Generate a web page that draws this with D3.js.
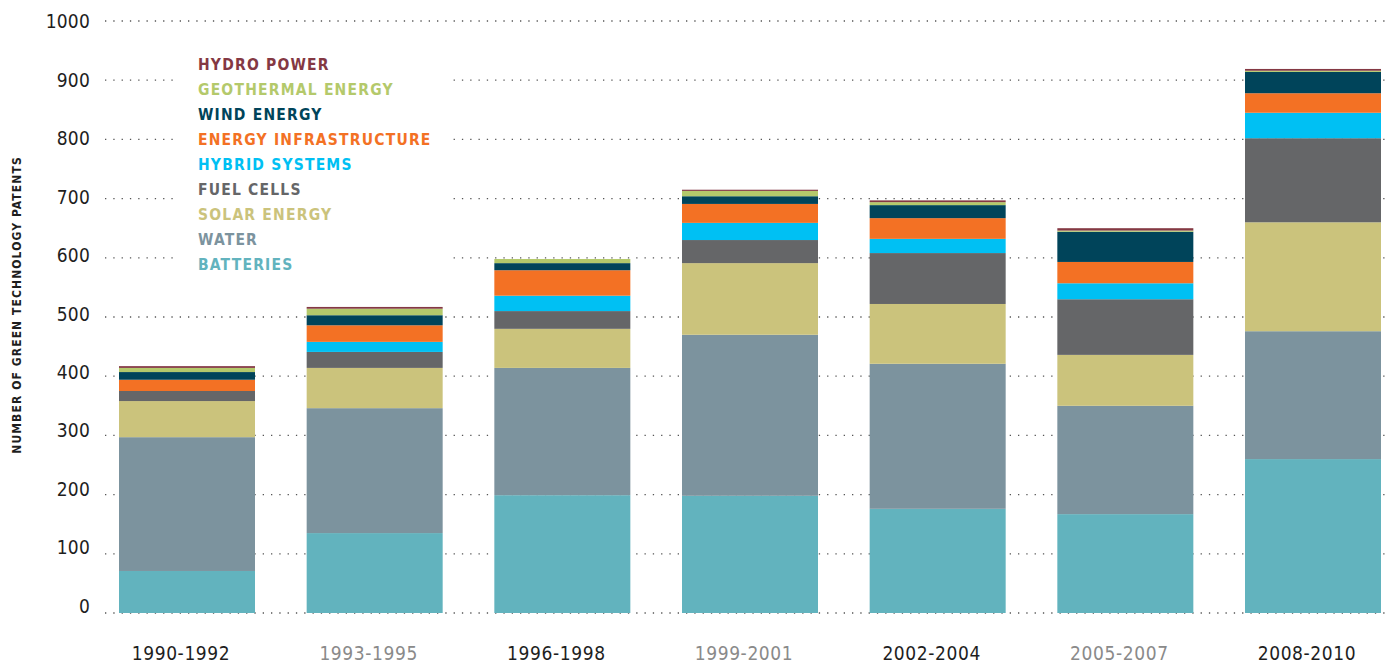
<!DOCTYPE html>
<html>
<head>
<meta charset="utf-8">
<script src="https://cdn.jsdelivr.net/npm/d3@7"></script>
<style>
  body { margin: 0; background: #fff; }
  svg { display: block; }
</style>
</head>
<body>
<div class="container"></div>
<script>
// data
const periods = ["1990-1992", "1993-1995", "1996-1998", "1999-2001", "2002-2004", "2005-2007", "2008-2010"]
const batteries   = [71, 135, 199, 198, 176, 167, 260]
const water       = [226, 211, 215, 272, 245, 183, 216]
const solar       = [61, 68, 66, 121, 101, 86, 184]
const fuelCells   = [17, 27, 30, 39, 86, 94, 142]
const hybrid      = [0, 17, 26, 29, 24, 27, 43]
const infra       = [19, 28, 43, 32, 35, 36, 33]
const wind        = [13, 17, 12, 13, 22, 51, 36]
const geothermal  = [7, 11, 7, 9, 5, 2, 2]
const hydro       = [3, 3, 0, 2, 3, 4, 3]
const yTicks = [0, 100, 200, 300, 400, 500, 600, 700, 800, 900, 1000]

const seriesNames = ["BATTERIES", "WATER", "SOLAR ENERGY", "FUEL CELLS", "HYBRID SYSTEMS",
  "ENERGY INFRASTRUCTURE", "WIND ENERGY", "GEOTHERMAL ENERGY", "HYDRO POWER"]
const seriesValues = [batteries, water, solar, fuelCells, hybrid, infra, wind, geothermal, hydro]
const colors = ["#62b3be", "#7c939e", "#cbc37c", "#656668", "#00c0f3", "#f37124", "#00445a", "#b4c96b", "#843843"]

const w = 1390
const h = 663
const numFont = "'DejaVu Sans Condensed', sans-serif"

// table for d3.stack
const table = periods.map((p, i) => {
    const row = { period: p }
    seriesNames.forEach((s, j) => { row[s] = seriesValues[j][i] })
    return row
})
const stacked = d3.stack().keys(seriesNames)(table)

const xScale = d3.scaleBand()
.domain(periods)
.range([119, 1381])
.paddingInner(0.2753)
.paddingOuter(0)

const yScale = d3.scaleLinear()
.domain([0, 1000])
.range([613, 21])

// tick labels sit on a slightly tighter scale in the original
const yLabel = d3.scaleLinear()
.domain([0, 1000])
.range([606, 21.5])

const color = d3.scaleOrdinal().domain(seriesNames).range(colors)

const svg = d3.select(".container")
.append("svg")
.attr("width", w)
.attr("height", h)

// dotted grid
svg.append("g")
.selectAll("line")
.data(yTicks)
.enter()
.append("line")
.attr("x1", 105)
.attr("x2", 1386)
.attr("y1", (d) => yScale(d))
.attr("y2", (d) => yScale(d))
.attr("stroke", "#555")
.attr("stroke-width", 1.3)
.attr("stroke-dasharray", "1.3 7")

// y labels
svg.append("g")
.selectAll("text")
.data(yTicks)
.enter()
.append("text")
.attr("x", 90)
.attr("y", (d) => yLabel(d))
.attr("dy", "0.36em")
.attr("text-anchor", "end")
.style("font-family", numFont)
.style("font-size", "19px")
.style("letter-spacing", "0.2px")
.style("fill", "#1e1e1e")
.text((d) => d)

// bars
svg.append("g")
.selectAll("g")
.data(stacked)
.enter()
.append("g")
.attr("fill", (d) => color(d.key))
.selectAll("rect")
.data((d) => d)
.enter()
.append("rect")
.attr("x", (d) => xScale(d.data.period))
.attr("y", (d) => yScale(d[1]))
.attr("width", xScale.bandwidth())
.attr("height", (d) => yScale(d[0]) - yScale(d[1]))

// x labels
svg.append("g")
.selectAll("text")
.data(periods)
.enter()
.append("text")
.attr("x", (d) => xScale(d) + xScale.bandwidth() / 2 - 6)
.attr("y", 653)
.attr("dy", "0.36em")
.attr("text-anchor", "middle")
.style("font-family", numFont)
.style("font-size", "19px")
.style("letter-spacing", "0.6px")
.style("fill", (d, i) => i % 2 === 0 ? "#1e1e1e" : "#8a8a8a")
.text((d) => d)

// y title
svg.append("text")
.attr("transform", "translate(21," + 305 + ") rotate(-90)")
.attr("text-anchor", "middle")
.style("font-family", "'DejaVu Sans Condensed', sans-serif")
.style("font-size", "12px")
.style("font-weight", "bold")
.style("letter-spacing", "1.1px")
.style("fill", "#1e1e1e")
.text("NUMBER OF GREEN TECHNOLOGY PATENTS")

// legend, top item first
const legend = svg.append("g")
legend.append("rect")
.attr("x", 178)
.attr("y", 46)
.attr("width", 272)
.attr("height", 230)
.attr("fill", "#fff")

legend.selectAll("text")
.data(seriesNames.slice().reverse())
.enter()
.append("text")
.attr("x", 198)
.attr("y", (d, i) => 64 + i * 25)
.attr("dy", "0.36em")
.style("font-family", "'DejaVu Sans Condensed', sans-serif")
.style("font-size", "15.5px")
.style("font-weight", "bold")
.style("letter-spacing", "1.2px")
.style("fill", (d) => color(d))
.text((d) => d)
</script>
</body>
</html>
